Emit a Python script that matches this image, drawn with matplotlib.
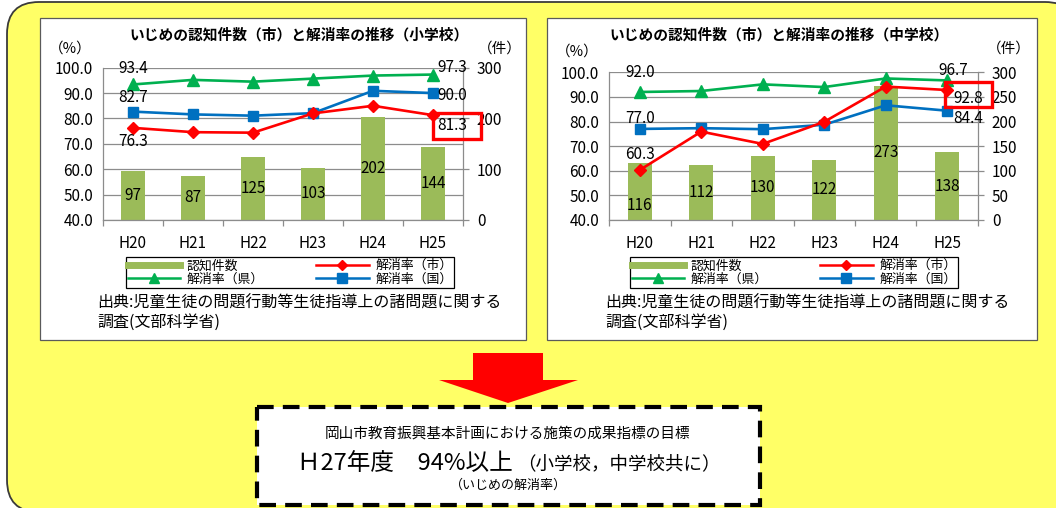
import matplotlib
matplotlib.use('Agg')
import matplotlib.pyplot as plt
from matplotlib.patches import FancyBboxPatch, Rectangle, Polygon
from matplotlib.lines import Line2D
from matplotlib.ticker import MultipleLocator

plt.rcParams['font.family'] = ['Noto Sans CJK JP', 'DejaVu Sans']

# いじめの認知件数・解消率 (H20-H25)
years = ['H20', 'H21', 'H22', 'H23', 'H24', 'H25']

sho_count = [97, 87, 125, 103, 202, 144]
sho_city = [76.3, 74.6, 74.4, 82.0, 85.0, 81.3]
sho_pref = [93.4, 95.2, 94.5, 95.7, 96.9, 97.3]
sho_nat = [82.7, 81.6, 81.1, 82.1, 90.9, 90.0]

chu_count = [116, 112, 130, 122, 273, 138]
chu_city = [60.3, 75.9, 70.9, 79.9, 94.2, 92.8]
chu_pref = [92.0, 92.4, 95.1, 94.0, 97.5, 96.7]
chu_nat = [77.0, 77.3, 76.9, 78.7, 86.6, 84.4]

legend_names = ['認知件数', '解消率（県）', '解消率（市）', '解消率（国）']

BAR = '#9BBB59'
RED = '#FF0000'
GREEN = '#00B050'
BLUE = '#0070C0'
GRID = '#8C8C8C'
FS = 11

W, H = 1056, 508
fig = plt.figure(figsize=(W / 100, H / 100), dpi=100)
bg = fig.add_axes([0, 0, 1, 1])
bg.set_xlim(0, W)
bg.set_ylim(H, 0)
bg.axis('off')


def frac(x0, y0, x1, y1):
    return [x0 / W, 1 - y1 / H, (x1 - x0) / W, (y1 - y0) / H]


# yellow rounded background
bg.add_patch(FancyBboxPatch((7, 2), 1070, 510, boxstyle='round,pad=0,rounding_size=32',
                            fc='#FFFF66', ec='#3A3A3A', lw=1.3))
# white panels
for x0, x1 in [(40, 526), (547, 1037)]:
    bg.add_patch(Rectangle((x0, 18), x1 - x0, 322, fc='white', ec='#5A5A5A', lw=0.9))


def draw_panel(box, count, cmax, cstep):
    x0, y0, x1, y1 = box
    axb = fig.add_axes(frac(x0, y0, x1, y1))
    axl = axb.twinx()
    axb.patch.set_visible(False)
    axl.patch.set_visible(False)
    x = list(range(len(years)))

    bars = axb.bar(x, count, width=0.39, color=BAR, zorder=2)
    axb.set_ylim(0, cmax)
    axb.set_xlim(-0.5, len(years) - 0.5)
    axb.yaxis.set_major_locator(MultipleLocator(cstep))
    axb.yaxis.set_minor_locator(MultipleLocator(cmax / 6))
    axb.yaxis.tick_right()
    axb.grid(axis='y', which='both', color=GRID, lw=0.9, zorder=0)
    axb.set_axisbelow(True)
    axb.tick_params(axis='y', which='major', right=True, length=4, width=0.9,
                    color=GRID, labelsize=FS, pad=6)
    axb.tick_params(axis='y', which='minor', length=0)
    axb.set_xticks(x)
    axb.set_xticklabels(years)
    axb.set_xticks([i - 0.5 for i in range(len(years) + 1)], minor=True)
    axb.tick_params(axis='x', which='major', length=0, labelsize=FS, pad=11)
    axb.tick_params(axis='x', which='minor', length=4, width=0.9, color=GRID)
    for s in ['top', 'left']:
        axb.spines[s].set_visible(False)
    for s in ['right', 'bottom']:
        axb.spines[s].set_color(GRID)
        axb.spines[s].set_linewidth(0.9)

    labs = axb.bar_label(bars, labels=[str(v) for v in count], label_type='center',
                         fontsize=FS)
    return axb, axl, x, labs


def finish_panel(axb, axl, x, labs, title, title_x, pct_xy, ken_xy,
                 city, pref, nat, lbl_first, lbl_last, red_box, legend_c, src_x):
    axl.plot(x, pref, color=GREEN, lw=1.9, marker='^', ms=8, zorder=3)
    axl.plot(x, nat, color=BLUE, lw=1.9, marker='s', ms=7.5, zorder=4)
    axl.plot(x, city, color=RED, lw=1.9, marker='D', ms=6, zorder=5)
    axl.set_ylim(40, 100)
    axl.yaxis.set_major_locator(MultipleLocator(10))
    axl.yaxis.tick_left()
    axl.yaxis.set_major_formatter(lambda v, p: f'{v:.1f}')
    axl.tick_params(axis='y', length=0, labelsize=FS, pad=7)
    for s in ['top', 'right', 'bottom']:
        axl.spines[s].set_visible(False)
    axl.spines['left'].set_color(GRID)
    axl.spines['left'].set_linewidth(0.9)

    series = {'city': city, 'pref': pref, 'nat': nat}
    for idx, table in [(0, lbl_first), (len(x) - 1, lbl_last)]:
        for key, (dx, dy) in table.items():
            v = series[key][idx]
            axl.annotate(f'{v:.1f}', (x[idx], v), xytext=(dx, dy), textcoords='offset pixels',
                         ha='center', va='center', fontsize=FS, zorder=8)

    rx0, ry0, rx1, ry1 = red_box
    axl.add_patch(Rectangle((rx0, ry0), rx1 - rx0, ry1 - ry0, transform=bg.transData,
                            fill=False, ec=RED, lw=2.4, clip_on=False, zorder=9))

    bg.text(title_x, 35, title, ha='center', va='center', fontsize=10.6, fontweight='bold')
    bg.text(pct_xy[0], pct_xy[1], '（%）', ha='center', va='center', fontsize=10.5)
    bg.text(ken_xy[0], ken_xy[1], '（件）', ha='center', va='center', fontsize=10.5)

    handles = [Line2D([], [], color=BAR, lw=5),
               Line2D([], [], color=GREEN, lw=1.8, marker='^', ms=7),
               Line2D([], [], color=RED, lw=1.8, marker='D', ms=5.5),
               Line2D([], [], color=BLUE, lw=1.8, marker='s', ms=6.5)]
    leg = axl.legend(handles, legend_names, ncol=2, loc='center',
                     bbox_to_anchor=(legend_c[0] / W, 1 - legend_c[1] / H),
                     bbox_transform=fig.transFigure, fontsize=9.3, frameon=True,
                     fancybox=False, edgecolor='black', framealpha=1,
                     handlelength=4.1, handletextpad=0.5, columnspacing=4.0,
                     borderpad=0.15, labelspacing=0.05, borderaxespad=0)
    leg.get_frame().set_linewidth(0.9)

    bg.text(src_x, 303, '出典:児童生徒の問題行動等生徒指導上の諸問題に関する',
            ha='left', va='center', fontsize=11.5)
    bg.text(src_x, 322, '調査(文部科学省)', ha='left', va='center', fontsize=11.5)


box1 = (103, 67.7, 463, 220)
a = draw_panel(box1, sho_count, 300, 100)
finish_panel(*a, 'いじめの認知件数（市）と解消率の推移（小学校）', 299, (70, 49), (500, 49),
             sho_city, sho_pref, sho_nat,
             {'pref': (0, 16), 'nat': (0, 14), 'city': (0, -14)},
             {'pref': (19, 7), 'nat': (19, -2), 'city': (19, -10)},
             (433, 113, 481, 139), (290, 272.5), 97)

box2 = (609, 72.3, 978, 220)
b = draw_panel(box2, chu_count, 300, 50)
# 1本目のラベルは折れ線の数値と重なるので下げる
b[3][0].xyann = (0, -10)
finish_panel(*b, 'いじめの認知件数（市）と解消率の推移（中学校）', 779, (577, 52), (1009, 49),
             chu_city, chu_pref, chu_nat,
             {'pref': (0, 19), 'nat': (0, 10), 'city': (0, 16)},
             {'pref': (6, 10), 'city': (21, -8), 'nat': (21, -8)},
             (945, 82, 992, 107), (794, 272.5), 605)

# red arrow
bg.add_patch(Polygon([(473, 353), (543, 353), (543, 380), (578, 380), (508, 403),
                      (439, 380), (473, 380)], closed=True, fc=RED, ec='none'))

# target box
bg.add_patch(Rectangle((257, 407), 503, 98, fc='white', ec='black', lw=3,
                       ls=(0, (4, 2.2))))
bg.text(508, 435, '岡山市教育振興基本計画における施策の成果指標の目標',
        ha='center', va='center', fontsize=10.5)
bg.text(297, 463, 'Ｈ27年度　94%以上', ha='left', va='center', fontsize=17)
bg.text(517, 464, '（小学校，中学校共に）', ha='left', va='center', fontsize=13.3)
bg.text(508, 485, '（いじめの解消率）', ha='center', va='center', fontsize=9.4)

fig.savefig('out.png', dpi=100)
